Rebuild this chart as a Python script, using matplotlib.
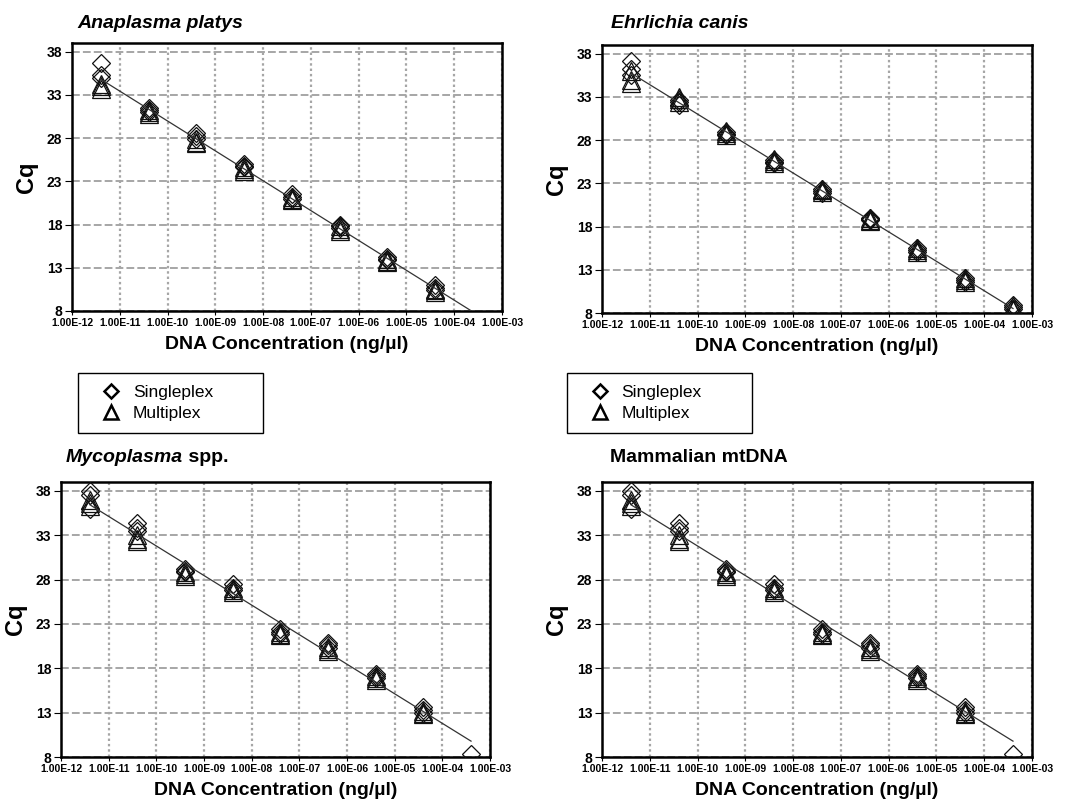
import numpy as np
import matplotlib.pyplot as plt
from matplotlib.lines import Line2D
from matplotlib.ticker import FuncFormatter

plt.rcParams['font.family'] = ['Liberation Sans', 'DejaVu Sans']

##Data (Cq replicates per 10-fold dilution)
conc = [4e-12, 4e-11, 4e-10, 4e-09, 4e-08, 4e-07, 4e-06, 4e-05, 4e-04]

ap_single = [[36.7, 35.3, 35.0], [31.5, 31.2, 31.0], [28.6, 28.2, 27.9], [25.0, 24.8, 24.6],
             [21.5, 21.2, 20.9], [18.0, 17.8, 17.6], [14.2, 14.0, 13.9], [11.0, 10.7, 10.4], []]
ap_multi = [[34.3, 34.0, 33.7], [31.2, 31.0, 30.8], [27.9, 27.6, 27.4], [24.6, 24.4, 24.2],
            [21.2, 21.0, 20.8], [17.8, 17.5, 17.3], [14.0, 13.8, 13.7], [10.6, 10.4, 10.2], []]

ec_single = [[37.1, 36.2, 35.5], [32.6, 32.4, 32.1], [28.9, 28.7, 28.6], [25.7, 25.5, 25.4],
             [22.3, 22.1, 21.9], [19.0, 18.9, 18.7], [15.5, 15.3, 15.1], [12.0, 11.8, 11.6], [8.9, 8.7, 8.5]]
ec_multi = [[36.0, 35.0, 34.6], [33.0, 32.7, 32.4], [29.0, 28.8, 28.6], [25.8, 25.6, 25.4],
            [22.4, 22.2, 22.0], [19.0, 18.8, 18.6], [15.5, 15.3, 15.1], [12.0, 11.8, 11.6], [8.8, 8.5, 8.3]]

my_single = [[38.0, 37.5, 36.0], [34.4, 33.8, 33.5], [29.2, 29.0, 28.8], [27.5, 27.0, 26.8],
             [22.4, 22.1, 21.9], [20.9, 20.6, 20.3], [17.4, 17.1, 16.9], [13.6, 13.3, 13.0], [8.3]]
my_multi = [[37.0, 36.6, 36.3], [33.0, 32.6, 32.3], [28.9, 28.6, 28.4], [27.0, 26.8, 26.6],
            [22.1, 21.9, 21.7], [20.4, 20.2, 20.0], [17.1, 16.9, 16.7], [13.2, 13.0, 12.8], []]

mt_single = [[38.0, 37.5, 36.0], [34.4, 33.8, 33.5], [29.2, 29.0, 28.8], [27.5, 27.0, 26.8],
             [22.4, 22.1, 21.9], [20.9, 20.6, 20.3], [17.4, 17.1, 16.9], [13.6, 13.3, 13.0], [8.3]]
mt_multi = [[37.0, 36.6, 36.3], [33.0, 32.6, 32.3], [28.9, 28.6, 28.4], [27.0, 26.8, 26.6],
            [22.1, 21.9, 21.7], [20.4, 20.2, 20.0], [17.1, 16.9, 16.7], [13.2, 13.0, 12.8], []]

yticks = [8, 13, 18, 23, 28, 33, 38]
xticks = [1e-12, 1e-11, 1e-10, 1e-09, 1e-08, 1e-07, 1e-06, 1e-05, 1e-04, 1e-03]

W, H = 1069, 805
fig = plt.figure(figsize=(W / 100, H / 100), dpi=100)


def flat(reps):
    xs, ys = [], []
    for c, r in zip(conc, reps):
        for v in r:
            xs.append(c)
            ys.append(v)
    return xs, ys


def panel(box, single, multi):
    l, t, r, b = box
    ax = fig.add_axes([l / W, 1 - b / H, (r - l) / W, (b - t) / H])
    sx, sy = flat(single)
    mx, my = flat(multi)
    ax.plot(sx, sy, 'D', ms=9.5, mfc='none', mec='#111111', mew=0.9, zorder=3)
    ax.plot(mx, my, '^', ms=13, mfc='none', mec='#111111', mew=0.9, zorder=3)
    # regression line through all replicates
    allx = np.log10(sx + mx)
    ally = np.array(sy + my)
    k, c0 = np.polyfit(allx, ally, 1)
    lx = np.array([conc[0], conc[-1]])
    ax.plot(lx, k * np.log10(lx) + c0, color='#333333', lw=0.9, zorder=4)
    ax.set_xscale('log')
    ax.set_xlim(1e-12, 1e-3)
    ax.set_ylim(8, 39)
    ax.set_xticks(xticks)
    ax.minorticks_off()
    ax.xaxis.set_major_formatter(FuncFormatter(lambda v, p: '%.2E' % v))
    ax.set_yticks(yticks)
    for lab in ax.get_xticklabels():
        lab.set_fontsize(7.5)
        lab.set_fontweight('bold')
    for lab in ax.get_yticklabels():
        lab.set_fontsize(10)
        lab.set_fontweight('bold')
    ax.tick_params(axis='x', length=3, pad=2)
    ax.tick_params(axis='y', length=5, pad=2)
    ax.grid(axis='y', color='#a6a6a6', ls=(0, (4, 1.6)), lw=1.4)
    ax.grid(axis='x', color='#a6a6a6', ls=(0, (1.1, 1.3)), lw=1.6)
    ax.set_axisbelow(True)
    for s in ax.spines.values():
        s.set_linewidth(1.8)
    ax.set_xlabel('DNA Concentration (ng/µl)', fontsize=14, fontweight='bold', labelpad=6)
    ax.set_ylabel('Cq', fontsize=17, fontweight='bold', labelpad=6)
    return ax


panel((72, 43, 502, 311), ap_single, ap_multi)
panel((602, 45, 1032, 313), ec_single, ec_multi)
panel((61, 482, 490, 757), my_single, my_multi)
panel((602, 482, 1032, 757), mt_single, mt_multi)

fig.text(77 / W, 1 - 23 / H, 'Anaplasma platys', fontsize=14, fontweight='bold', style='italic', va='center')
fig.text(611 / W, 1 - 23 / H, 'Ehrlichia canis', fontsize=14, fontweight='bold', style='italic', va='center')
t1 = fig.text(66 / W, 1 - 457 / H, 'Mycoplasma', fontsize=14, fontweight='bold', style='italic', va='center')
plt.annotate(' spp.', xy=(1, 0), xycoords=t1, va='bottom', ha='left', fontsize=14, fontweight='bold',
             annotation_clip=False)
fig.text(610 / W, 1 - 457 / H, 'Mammalian mtDNA', fontsize=14, fontweight='bold', va='center')

handles = [Line2D([], [], marker='D', ls='none', ms=7.5, mfc='none', mec='black', mew=1.8),
           Line2D([], [], marker='^', ls='none', ms=10.5, mfc='none', mec='black', mew=1.8)]
for x0 in (78, 567):
    fig.legend(handles, ['Singleplex', 'Multiplex'], loc='upper left',
               bbox_to_anchor=(x0 / W, 1 - 427 / H, 185 / W, 54 / H), mode='expand',
               borderaxespad=0, fontsize=12.5, frameon=True, fancybox=False, edgecolor='black',
               framealpha=1, borderpad=0.7, handlelength=2.4, handletextpad=0.05, labelspacing=0.3)

fig.savefig('out.png', dpi=100)
